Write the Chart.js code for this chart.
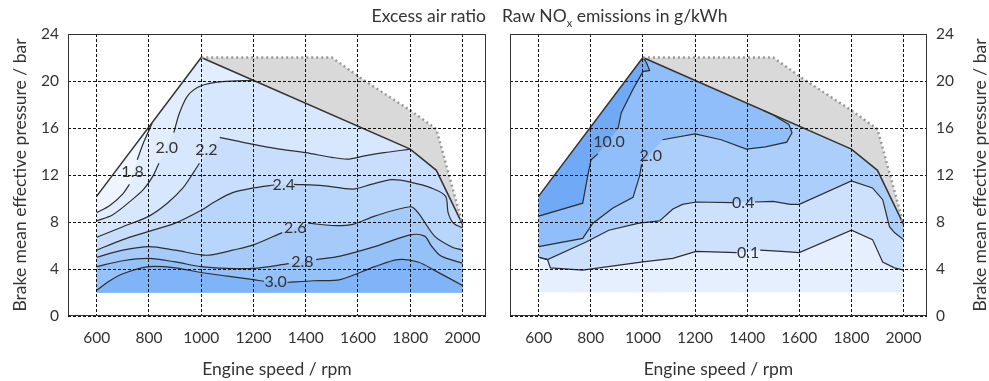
<!DOCTYPE html>
<html>
<head>
<meta charset="utf-8">
<script src="https://cdn.jsdelivr.net/npm/chart.js@4.4.1/dist/chart.umd.min.js"></script>
<style>
  body { margin: 0; background: #fff; }
  #wrap { position: relative; width: 989px; height: 381px; font-family: Lato, sans-serif; color: #333; }
  canvas { position: absolute; top: 0; }
  .ttl { position: absolute; top: 5px; font-size: 17.5px; white-space: nowrap; }
  .ttl sub { font-size: 11px; }
</style>
</head>
<body>
<div id="wrap">
  <canvas id="lambdaMap" width="497" height="381" style="left:0"></canvas>
  <canvas id="noxMap" width="492" height="381" style="left:497px"></canvas>
  <div class="ttl" style="right:503px">Excess air ratio</div>
  <div class="ttl" style="left:502px">Raw NO<sub>x</sub> emissions in g/kWh</div>
</div>
<script>
const xTicks = [600, 800, 1000, 1200, 1400, 1600, 1800, 2000];
const yTicks = [0, 4, 8, 12, 16, 20, 24];

// [rpm, bar]
const fullLoad = [[600, 10.2], [1000, 22], [1800, 14.2], [1900, 12.4], [2000, 7.8]];
const smokeLimit = [[1000, 22], [1500, 22], [1620, 20.1], [1800, 17.5], [1900, 15.9], [2000, 7.8]];
const mapFloor = 2;

// excess air ratio contours (null = gap for the label)
const lambda18 = [[600, 8.8], [650, 9.4], [700, 10.4], [725, 11.2], null, [755, 13.3], [780, 14.8], [812, 16.4]];
const lambda20 = [[600, 8.1], [660, 8.6], [730, 9.8], [780, 10.8], [815, 11.9], [838, 13.0], null, [895, 15.6], [917, 17.3], [950, 18.8], [1000, 19.6], [1080, 19.95], [1200, 20.05]];
const lambda22 = [[600, 6.7], [700, 7.6], [800, 8.5], [870, 9.6], [930, 10.9], [970, 12.2], [993, 13.0], null, [1071, 15.2], [1200, 14.6], [1300, 14.2], [1400, 13.9], [1500, 13.5], [1560, 13.35], [1620, 13.6], [1700, 13.9], [1800, 14.2]];
const lambda24 = [[600, 5.6], [700, 6.5], [800, 7.2], [900, 7.9], [1000, 9.0], [1050, 9.7], [1120, 10.5], [1200, 10.9], [1280, 11.15], null, [1355, 11.2], [1465, 11.1], [1580, 10.8], [1650, 11.2], [1730, 11.6], [1800, 11.4], [1880, 10.9], [1935, 10.2], [1945, 8.8], [1965, 7.9], [2000, 7.5]];
const lambda26 = [[600, 5.0], [700, 5.6], [800, 5.9], [900, 5.6], [1000, 5.2], [1040, 5.2], [1120, 5.6], [1200, 6.05], [1310, 7.1], null, [1410, 7.9], [1500, 7.7], [1580, 7.8], [1664, 8.5], [1800, 9.3], [1830, 8.8], [1893, 6.8], [1957, 5.9], [2000, 5.6]];
const lambda28 = [[600, 4.2], [700, 4.7], [800, 4.9], [900, 4.6], [1000, 4.2], [1100, 4.05], [1200, 4.05], [1335, 4.45], null, [1440, 4.8], [1532, 5.1], [1664, 5.9], [1800, 6.9], [1855, 6.8], [1880, 6.0], [1918, 5.1], [2000, 4.5]];
const lambda30 = [[600, 2.2], [650, 3.0], [700, 3.6], [800, 4.2], [900, 4.1], [1000, 3.7], [1100, 3.4], [1200, 3.1], [1240, 2.95], null, [1330, 2.85], [1430, 3.0], [1532, 3.1], [1664, 4.2], [1753, 4.8], [1830, 4.6], [1900, 3.8], [2000, 2.6]];
const lambdaLabels = [['1.8', 737, 12.3], ['2.0', 868, 14.3], ['2.2', 1020, 14.15], ['2.4', 1316, 11.15], ['2.6', 1360, 7.5], ['2.8', 1387, 4.6], ['3.0', 1285, 2.9]];

// raw NOx contours
const nox01 = [[600, 5.0], [634, 4.8], [645, 4.1], [769, 3.9], [1000, 4.6], [1115, 4.9], [1204, 5.5], [1360, 5.4], null, [1450, 5.6], [1533, 5.5], [1600, 5.4], [1800, 7.3], [1881, 6.5], [1920, 4.6], [1965, 4.1], [2000, 3.9]];
const nox04 = [[600, 5.0], [634, 4.8], [782, 6.3], [869, 7.3], [985, 7.9], [1064, 8.1], [1115, 9.1], [1152, 9.5], [1204, 9.7], [1345, 9.65], null, [1430, 9.7], [1500, 9.75], [1565, 9.5], [1600, 9.5], [1800, 11.5], [1881, 10.9], [1920, 9.9], [1946, 7.6], [1965, 7.1], [2000, 6.5]];
const nox20 = [[600, 5.9], [769, 6.6], [808, 7.9], [885, 9.2], [962, 10.1], [987, 11.9], [995, 12.9], null, [1075, 15.0], [1200, 15.5], [1300, 15.0], [1397, 14.2], [1470, 14.4], [1552, 14.8], [1572, 15.6], [1560, 16.3], [1500, 17.1], [1462, 17.5]];
const nox10 = [[600, 8.5], [769, 9.6], [788, 11.9], [801, 13.3], [827, 13.8], null, [904, 15.9], [917, 17.3], [962, 19.3], [1000, 20.8], [1026, 20.9], [1013, 21.6], [1003, 21.9]];
const noxLabels = [['10.0', 870, 14.8], ['2.0', 1030, 13.6], ['0.4', 1385, 9.6], ['0.1', 1404, 5.4]];

const toXY = arr => arr.map((p, i) => p ? {x: p[0], y: p[1]} : {x: (arr[i - 1][0] + arr[i + 1][0]) / 2, y: null});
const solid = arr => arr.filter(p => p);

// closed regions
const envelope = () => [...fullLoad, [2000, mapFloor], [600, mapFloor]];
const below = c => {
    const pts = solid(c);
    const lastX = pts[pts.length - 1][0];
    return [...pts, ...fullLoad.filter(p => p[0] > lastX + 1), [2000, mapFloor], [600, mapFloor]];
};
const above = c => {
    const pts = solid(c);
    const lastX = pts[pts.length - 1][0];
    return [...pts, ...fullLoad.filter(p => p[0] <= lastX).reverse()];
};
const greyZone = () => [...smokeLimit, ...fullLoad.filter(p => p[0] >= 1000 && p[0] < 2000).reverse()];

const area = (poly, color, order) => ({
    data: toXY(poly), fill: 'shape', backgroundColor: color,
    borderWidth: 0, borderColor: 'transparent', pointRadius: 0, order
});
const contour = (c, tension) => ({
    data: toXY(c), fill: false, borderColor: '#2e2e2e', borderWidth: 1.2,
    pointRadius: 0, tension, spanGaps: false, order: 10
});

const framePlugin = {
    id: 'frameAndLabels',
    afterDraw(chart, args, opts) {
        const {ctx, chartArea: a, scales: {x, y}} = chart;
        ctx.save();
        ctx.strokeStyle = '#333';
        ctx.lineWidth = 1;
        ctx.strokeRect(a.left + 0.5, a.top + 0.5, a.right - a.left - 1, a.bottom - a.top - 1);
        ctx.font = '16px Lato';
        ctx.fillStyle = '#333';
        ctx.textAlign = 'center';
        ctx.textBaseline = 'middle';
        opts.labels.forEach(([t, rpm, bar]) => ctx.fillText(t, x.getPixelForValue(rpm), y.getPixelForValue(bar)));
        if (opts.sideTitle) {
            ctx.translate(opts.sideTitle, (a.top + a.bottom) / 2);
            ctx.rotate(-Math.PI / 2);
            ctx.font = '17.5px Lato';
            ctx.fillText('Brake mean effective pressure / bar', 0, 0);
        }
        ctx.restore();
    }
};

const makeMap = (id, side, fills, lines, labels) => {
    const datasets = [
        ...fills.map((f, i) => area(f[0], f[1], 100 - i)),
        ...lines,
        {data: toXY(smokeLimit), borderColor: '#9a9a9a', borderWidth: 2.5, borderDash: [2, 3], pointRadius: 0, fill: false, order: 5},
        {data: toXY(fullLoad), borderColor: '#333', borderWidth: 1.5, pointRadius: 0, fill: false, order: 5}
    ];
    new Chart(document.getElementById(id), {
        type: 'line',
        data: {datasets},
        plugins: [framePlugin],
        options: {
            responsive: false,
            animation: false,
            layout: {padding: side === 'left' ? {top: 34, right: 11} : {top: 34, left: 13}},
            plugins: {
                legend: {display: false},
                tooltip: {enabled: false},
                frameAndLabels: {labels, sideTitle: side === 'right' ? 483 : 0}
            },
            scales: {
                x: {
                    type: 'linear', min: 490, max: 2090,
                    afterBuildTicks: s => { s.ticks = xTicks.map(v => ({value: v})); },
                    afterFit: s => { s.height = 65; },
                    grid: {color: '#111', drawTicks: false, z: 1},
                    border: {display: false, dash: [3, 2]},
                    ticks: {padding: 13, color: '#333', font: {size: 15.5}, callback: v => String(v)},
                    title: {display: true, text: 'Engine speed / rpm', color: '#333', font: {size: 17.5}, padding: {top: 0, bottom: 1}}
                },
                y: {
                    type: 'linear', position: side, min: 0, max: 24,
                    afterBuildTicks: s => { s.ticks = yTicks.map(v => ({value: v})); },
                    afterFit: s => { s.width = side === 'left' ? 68 : 62; },
                    grid: {color: '#111', drawTicks: false, z: 1},
                    border: {display: false, dash: [3, 2]},
                    ticks: {padding: 9, color: '#333', font: {size: 15.5}, callback: v => String(v)},
                    title: {display: side === 'left', text: 'Brake mean effective pressure / bar', color: '#333', font: {size: 17.5}, padding: {top: 10, bottom: 0}}
                }
            }
        }
    });
};

Chart.defaults.font.family = 'Lato, sans-serif';

makeMap('lambdaMap', 'left', [
    [envelope(), '#eef5fe'],
    [below(lambda18), '#e2eefd'],
    [below(lambda20), '#d7e7fd'],
    [below(lambda22), '#c8defc'],
    [below(lambda24), '#b8d5fb'],
    [below(lambda26), '#a6cbfa'],
    [below(lambda28), '#95c1f9'],
    [below(lambda30), '#80b4f8'],
    [greyZone(), '#d9d9d9']
], [lambda18, lambda20, lambda22, lambda24, lambda26, lambda28, lambda30].map(c => contour(c, 0.3)), lambdaLabels);

makeMap('noxMap', 'right', [
    [envelope(), '#e5effd'],
    [above(nox01), '#cde0fc'],
    [above(nox04), '#abcefb'],
    [above(nox20), '#8fbefa'],
    [above(nox10), '#70a9f6'],
    [greyZone(), '#d9d9d9']
], [nox01, nox04, nox20, nox10].map(c => contour(c, 0)), noxLabels);
</script>
</body>
</html>
